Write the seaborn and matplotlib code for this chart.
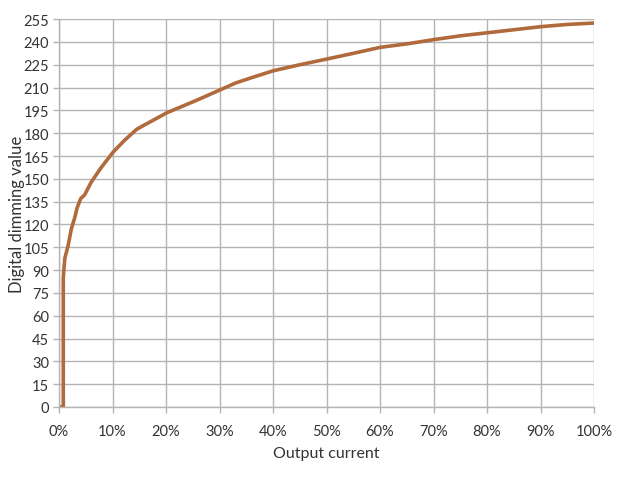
import numpy as np
import pandas as pd
import matplotlib
matplotlib.use('Agg')
import matplotlib.pyplot as plt
import seaborn as sns
from matplotlib.ticker import FuncFormatter

sns.set_theme(style="whitegrid")
plt.rcParams['font.family'] = ['Lato', 'DejaVu Sans']

# Curve (output current in %, digital dimming value)
output_current = [0, 0.8, 0.8, 0.95, 1.1, 1.7, 2.3, 2.9, 3.4, 4.05, 4.8, 6.0,
                  7.8, 10.1, 12.3, 14.5, 15.5, 20.2, 25.5, 29.5, 33, 36, 40,
                  45, 50, 55, 60, 65.6, 70, 75, 80, 85, 90, 95, 100]
dimming_value = [0, 0, 85, 92, 98, 106, 117, 124, 131, 137, 139.5, 147.7,
                 157, 167.5, 175.5, 182.5, 184.5, 193.5, 201.3, 207.5, 213, 216.5, 221,
                 225, 228.7, 232.5, 236.4, 239, 241.5, 244, 246, 248, 250, 251.5, 252.4]

x_ticks = list(range(0, 101, 10))
y_ticks = list(range(0, 256, 15))

df = pd.DataFrame({'current': output_current, 'value': dimming_value})

fig = plt.figure(figsize=(6.31, 4.81), dpi=100)
ax = fig.add_axes([0.0935, 0.1518, 0.8479, 0.8064])

sns.lineplot(data=df, x='current', y='value', ax=ax, sort=False,
             color='#b06a3b', linewidth=2.6, estimator=None)
ax.lines[0].set_solid_joinstyle('round')

ax.set_xlim(0, 100)
ax.set_ylim(0, 255)
ax.set_xticks(x_ticks)
ax.set_yticks(y_ticks)
ax.xaxis.set_major_formatter(FuncFormatter(lambda v, p: f'{v:.0f}%'))

ax.grid(True, color='#b4b4b4', linewidth=1.0)
ax.set_facecolor('white')
for side in ['top', 'right']:
    ax.spines[side].set_visible(False)
for side in ['left', 'bottom']:
    ax.spines[side].set_color('#b4b4b4')
    ax.spines[side].set_linewidth(1.0)

ax.tick_params(axis='both', which='major', labelsize=10.5, colors='#333333',
               length=4, width=1.0, direction='out', color='#b4b4b4', pad=3)
ax.tick_params(axis='x', bottom=True, pad=8)
ax.tick_params(axis='y', left=True)

ax.set_xlabel('Output current', fontsize=11.5, color='#333333', labelpad=6)
ax.set_ylabel('Digital dimming value', fontsize=12, color='#333333', labelpad=-1)

fig.savefig('out.png', dpi=100, facecolor='white')
